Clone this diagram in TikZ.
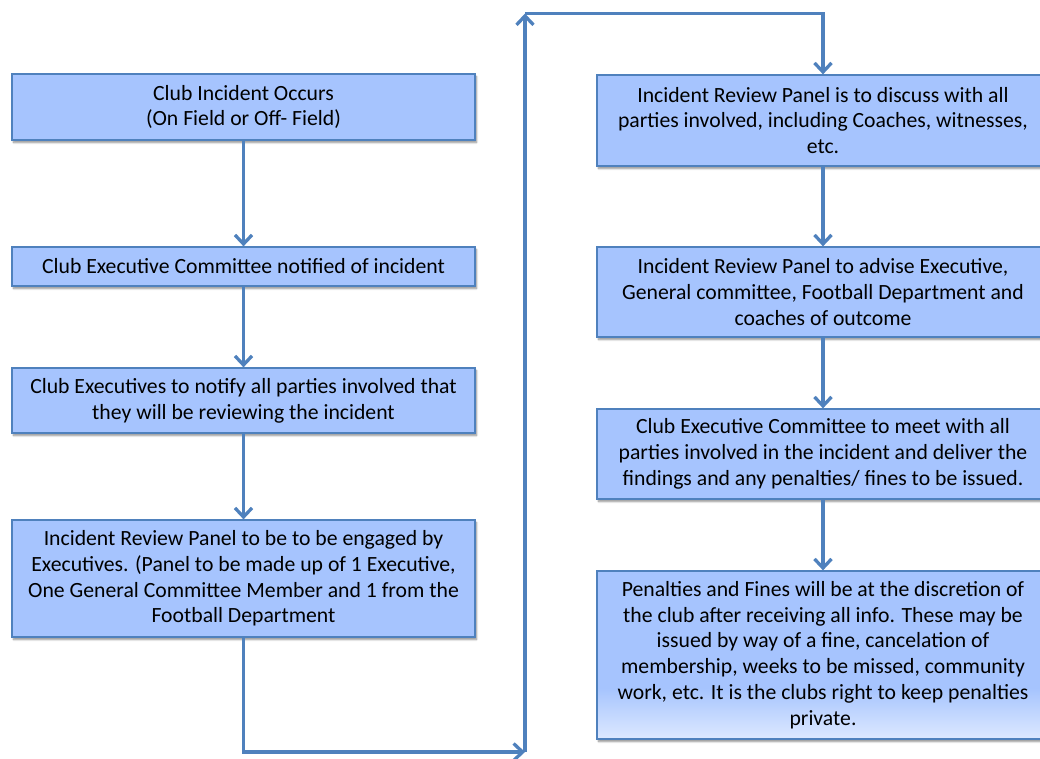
\documentclass[tikz,border=0pt]{standalone}
\usepackage{fontspec}
\setmainfont{Carlito}
\usetikzlibrary{arrows.meta,shadows.blur,calc}
\definecolor{boxfill}{RGB}{166,196,254}
\definecolor{boxlight}{RGB}{220,232,255}
\definecolor{edge}{RGB}{79,129,189}
\tikzset{
  box/.style={draw=edge, line width=1.3pt, fill=boxfill, align=center, inner sep=0pt,
    font=\fontsize{21.7}{25.7}\selectfont, text=black,
    blur shadow={shadow xshift=1.5pt, shadow yshift=-2.5pt, shadow blur steps=6, shadow opacity=45}},
  conn/.style={draw=edge, line width=3.3pt, -{Straight Barb[length=9pt,width=17pt]}}
}
\begin{document}
\begin{tikzpicture}[x=1pt,y=-1pt]
\useasboundingbox (0,0) rectangle (1040,758);
% left column
\node[box, minimum width=463pt, minimum height=66pt] (b1) at (243.5,107) {Club Incident Occurs\\(On Field or Off- Field)};
\node[box, minimum width=463pt, minimum height=39pt] (b2) at (243.5,266.5) {Club Executive Committee notified of incident};
\node[box, minimum width=463pt, minimum height=65pt] (b3) at (243.5,400.5) {Club Executives to notify all parties involved that\\they will be reviewing the incident};
\node[box, minimum width=463pt, minimum height=117pt] (b4) at (243.5,578.5) {Incident Review Panel to be to be engaged by\\Executives. (Panel to be made up of 1 Executive,\\One General Committee Member and 1 from the\\Football Department};
% right column
\node[box, minimum width=452pt, minimum height=91pt] (b5) at (823,120.5) {Incident Review Panel is to discuss with all\\parties involved, including Coaches, witnesses,\\etc.};
\node[box, minimum width=452pt, minimum height=90pt] (b6) at (823,292) {Incident Review Panel to advise Executive,\\General committee, Football Department and\\coaches of outcome};
\node[box, minimum width=452pt, minimum height=90pt] (b7) at (823,454) {Club Executive Committee to meet with all\\parties involved in the incident and deliver the\\findings and any penalties/ fines to be issued.};
\node[box, minimum width=452pt, minimum height=168pt,
  path picture={\foreach \i [evaluate=\i as \p using int(100-2*\i)] in {0,...,50}
      {\fill[boxfill!\p!boxlight] ($(path picture bounding box.north west)+(-2,117+\i)$) rectangle ($(path picture bounding box.north east)+(2,118.4+\i)$);}}]
  (b8) at (823,655) {Penalties and Fines will be at the discretion of\\the club after receiving all info. These may be\\issued by way of a fine, cancelation of\\membership, weeks to be missed, community\\work, etc. It is the clubs right to keep penalties\\private.};
% connectors
\draw[conn] (b1.south) -- (b2.north);
\draw[conn] (b2.south) -- (b3.north);
\draw[conn] (b3.south) -- (b4.north);
\coordinate (c2) at (525,752);
\coordinate (c3) at (525,13.5);
\draw[conn] (b4.south) |- (c2);
\draw[conn] (c2) -- (c3);
\draw[conn] (c3) -| (b5.north);
\draw[conn] (b5.south) -- (b6.north);
\draw[conn] (b6.south) -- (b7.north);
\draw[conn] (b7.south) -- (b8.north);
\end{tikzpicture}
\end{document}
